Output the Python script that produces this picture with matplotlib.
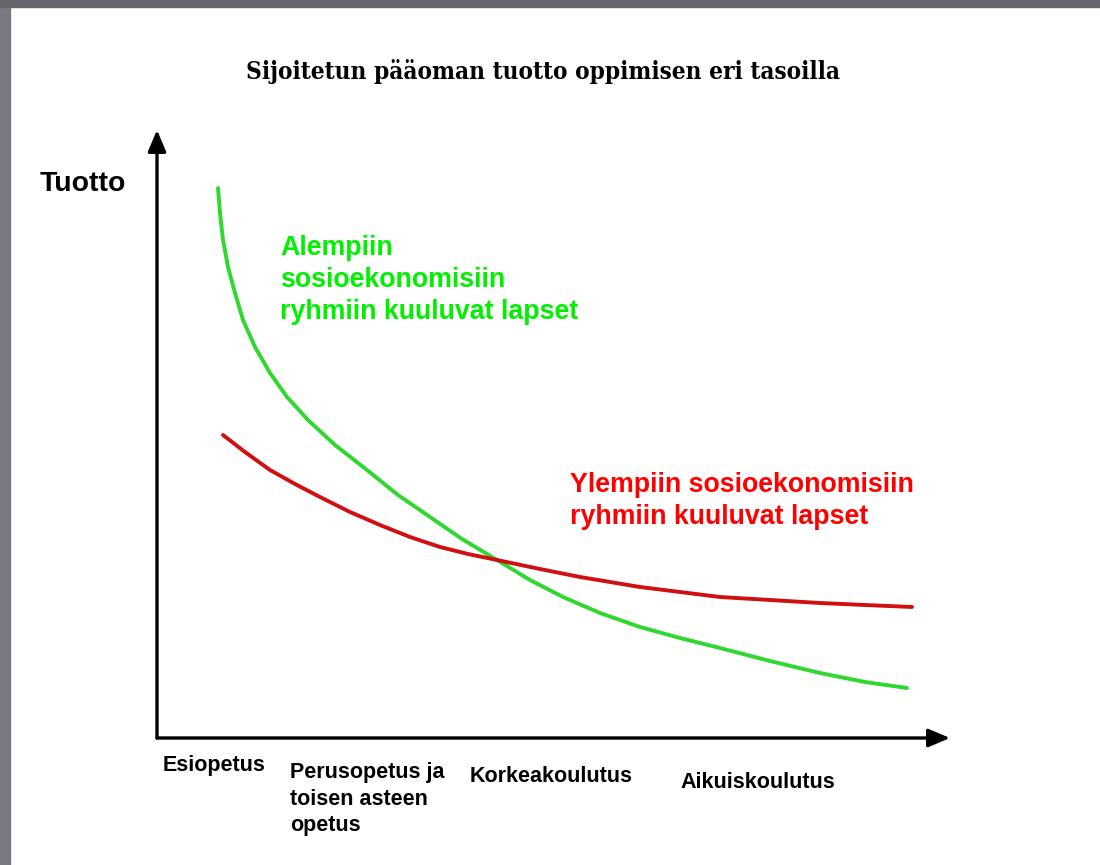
"""Sijoitetun pääoman tuotto oppimisen eri tasoilla - two return curves."""
import matplotlib.pyplot as plt
from matplotlib.patches import Rectangle

# levels of education along the x axis
levels = ["Esiopetus", "Perusopetus ja\ntoisen asteen\nopetus", "Korkeakoulutus", "Aikuiskoulutus"]
level_x = [0.06, 1.33, 3.13, 5.23]
level_y = [-0.17, -0.24, -0.28, -0.34]

# lower socio-economic groups
low_x = [0.61, 0.63, 0.66, 0.71, 0.78, 0.86, 0.98, 1.13, 1.30, 1.51, 1.78, 2.10, 2.41,
         2.73, 3.05, 3.40, 3.73, 4.06, 4.43, 4.83, 5.23, 5.63, 6.13, 6.63, 7.08, 7.50]
low_y = [5.50, 5.25, 4.98, 4.71, 4.45, 4.18, 3.91, 3.65, 3.41, 3.18, 2.93, 2.68, 2.43,
         2.21, 1.99, 1.78, 1.58, 1.41, 1.25, 1.11, 1.00, 0.90, 0.77, 0.65, 0.56, 0.50]

# upper socio-economic groups
high_x = [0.66, 0.88, 1.13, 1.38, 1.63, 1.93, 2.23, 2.53, 2.83, 3.11, 3.40, 3.83, 4.23,
          4.53, 4.83, 5.23, 5.63, 6.13, 6.63, 7.08, 7.55]
high_y = [3.03, 2.86, 2.68, 2.54, 2.41, 2.26, 2.13, 2.01, 1.91, 1.84, 1.78, 1.69, 1.61,
          1.56, 1.51, 1.46, 1.41, 1.38, 1.35, 1.33, 1.31]

W, H = 1100, 865
fig = plt.figure(figsize=(W / 100, H / 100), dpi=100)
fig.patch.set_facecolor("white")

# grey slide frame at left and top
fig.add_artist(Rectangle((0, 0), 10 / W, 1, transform=fig.transFigure, color="#7a7880", zorder=0))
fig.add_artist(Rectangle((0, 1 - 7 / H), 1, 7 / H, transform=fig.transFigure, color="#67656d", zorder=0))

ax = fig.add_axes([157 / W, (H - 738) / H, 800 / W, 610 / H])
ax.set_xlim(0, 8)
ax.set_ylim(0, 6.1)
ax.axis("off")

arrow = dict(arrowstyle="-|>,head_length=1.3,head_width=0.55", color="black", lw=2.4,
             shrinkA=0, shrinkB=0)
ax.annotate("", xy=(7.93, 0), xytext=(0, 0), arrowprops=arrow, annotation_clip=False)
ax.annotate("", xy=(0, 6.08), xytext=(0, 0), arrowprops=arrow, annotation_clip=False)

ax.plot(low_x, low_y, color="#2fd82f", lw=2.8, solid_capstyle="round", solid_joinstyle="round")
ax.plot(high_x, high_y, color="#d01010", lw=2.8, solid_capstyle="round", solid_joinstyle="round")

sans = ["Liberation Sans", "DejaVu Sans"]
ax.text(1.23, 4.58, "Alempiin\nsosioekonomisiin\nryhmiin kuuluvat lapset", color="#00f000",
        fontsize=19.3, fontweight="bold", family=sans, va="center", ha="left", linespacing=1.3)
ax.text(4.13, 2.37, "Ylempiin sosioekonomisiin\nryhmiin kuuluvat lapset", color="#ff0000",
        fontsize=19.3, fontweight="bold", family=sans, va="center", ha="left", linespacing=1.3)

for lab, x, y in zip(levels, level_x, level_y):
    ax.text(x, y, lab, fontsize=15.5, fontweight="bold", family=sans, va="top", ha="left",
            linespacing=1.35)

fig.text(40 / W, 1 - 184 / H, "Tuotto", fontsize=20.4, fontweight="bold", family=sans,
         va="center", ha="left")
fig.text(543 / W, 1 - 72 / H, "Sijoitetun pääoman tuotto oppimisen eri tasoilla",
         fontsize=17.5, family=["DejaVu Serif"], fontstretch="condensed", fontweight="bold",
         va="center", ha="center")

fig.savefig("out.png", dpi=100)
